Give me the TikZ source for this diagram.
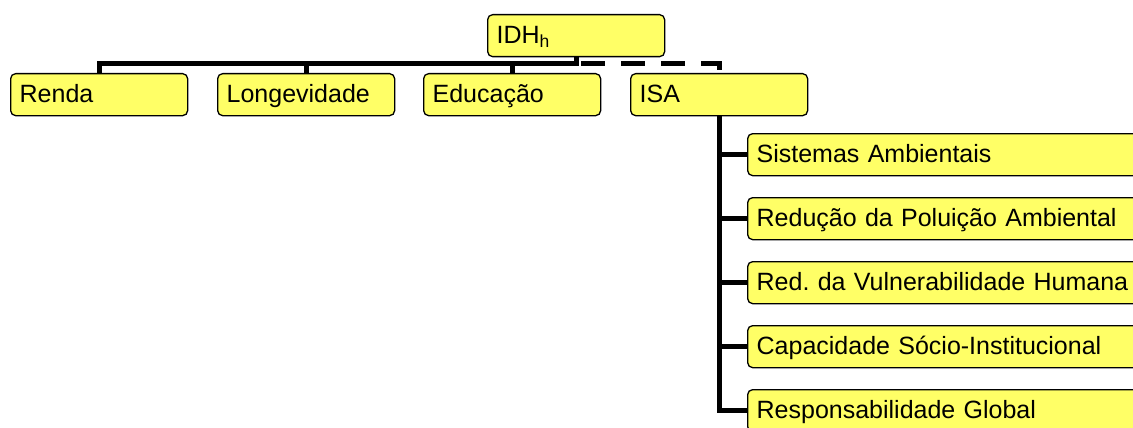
\documentclass[tikz,border=0pt]{standalone}
\usepackage{fontspec}
\setmainfont{Liberation Sans}
\usetikzlibrary{backgrounds}
\definecolor{boxyellow}{RGB}{255,255,102}
\begin{document}
\begin{tikzpicture}[x=1pt,y=-1pt,
  box/.style={draw=black, fill=boxyellow, line width=1.3pt, rounded corners=5pt,
    anchor=north west, minimum height=42pt, inner xsep=9pt, inner ysep=0pt,
    text height=20pt, text depth=4pt, align=left,
    font=\fontsize{25}{30}\selectfont},
  topbox/.style={box, text width=177pt-18pt},
  subbox/.style={box, text width=420pt-18pt},
  bar/.style={line width=5pt, line join=miter, draw=black},
  dashbar/.style={bar, dash pattern=on 24pt off 16pt, dash phase=35pt}]
\useasboundingbox (0,0) rectangle (1133,428);
\clip (0,0) rectangle (1133,428);
\coordinate (bar) at (0,64);
\node[topbox] (idh) at (487,14) {IDH\textsubscript{h}};
\node[topbox] (renda) at (10,73) {Renda};
\node[topbox] (longev) at (217,73) {Longevidade};
\node[topbox] (educ) at (423,73) {Educação};
\node[topbox] (isa) at (630,73) {ISA};
\node[subbox] (s1) at (747,133) {Sistemas Ambientais};
\node[subbox] (s2) at (747,197) {Redução da Poluição Ambiental};
\node[subbox] (s3) at (747,261) {Red.\ da Vulnerabilidade Humana};
\node[subbox] (s4) at (747,325) {Capacidade Sócio-Institucional};
\node[subbox] (s5) at (747,389) {Responsabilidade Global};
\begin{scope}[on background layer]
\draw[bar] (renda.north) -- (renda.north |- bar) -| (idh.south);
\draw[bar] (longev.north) -- (longev.north |- bar);
\draw[bar] (educ.north) -- (educ.north |- bar);
\draw[dashbar] (idh.south |- bar) -| (isa.north);
\draw[bar] (isa.south) |- (s5.west);
\draw[bar] (s1.west -| isa.south) -- (s1.west);
\draw[bar] (s2.west -| isa.south) -- (s2.west);
\draw[bar] (s3.west -| isa.south) -- (s3.west);
\draw[bar] (s4.west -| isa.south) -- (s4.west);
\end{scope}
\end{tikzpicture}
\end{document}
